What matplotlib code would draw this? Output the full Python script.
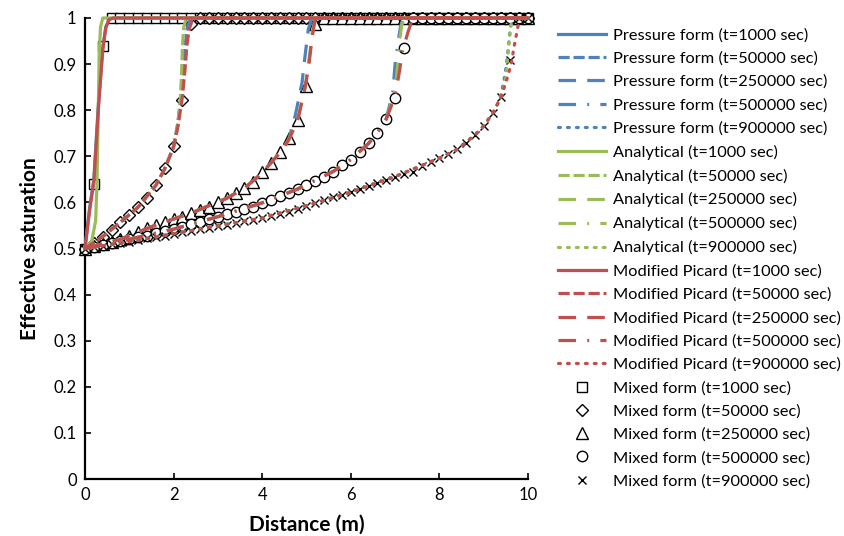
import numpy as np
import matplotlib

matplotlib.use("Agg")
import matplotlib.pyplot as plt

plt.rcParams["font.family"] = ["Lato", "DejaVu Sans"]

BLUE = "#4F81BD"
GREEN = "#9BBB59"
RED = "#C0504D"

TIMES = [1000, 50000, 250000, 500000, 900000]

# mixed form results, one value per node (0.2 m spacing, 0..10 m)
NODES = np.linspace(0, 10, 51)
MIX_1000 = [0.500, 0.640, 0.940] + [1.0] * 48
MIX_50000 = [0.500, 0.511, 0.526, 0.540, 0.558, 0.573, 0.591, 0.609, 0.638,
             0.674, 0.722, 0.822, 0.987] + [1.0] * 38
MIX_250000 = [0.500, 0.505, 0.510, 0.515, 0.520, 0.528, 0.536, 0.544, 0.551,
              0.557, 0.563, 0.569, 0.577, 0.584, 0.591, 0.600, 0.609, 0.620,
              0.631, 0.645, 0.665, 0.685, 0.710, 0.739, 0.779, 0.852,
              0.987] + [1.0] * 24
MIX_500000 = [0.500, 0.504, 0.508, 0.512, 0.516, 0.520, 0.524, 0.528, 0.533,
              0.537, 0.542, 0.547, 0.553, 0.558, 0.563, 0.569, 0.575, 0.580,
              0.585, 0.591, 0.599, 0.605, 0.613, 0.621, 0.629, 0.638, 0.646,
              0.656, 0.667, 0.681, 0.693, 0.709, 0.728, 0.751, 0.781, 0.826,
              0.936] + [1.0] * 14
MIX_900000 = [0.500, 0.503, 0.506, 0.509, 0.512, 0.515, 0.518, 0.522, 0.525,
              0.528, 0.532, 0.535, 0.538, 0.542, 0.545, 0.549, 0.552, 0.555,
              0.559, 0.562, 0.566, 0.570, 0.575, 0.580, 0.586, 0.593, 0.599,
              0.605, 0.611, 0.616, 0.622, 0.629, 0.635, 0.642, 0.649, 0.656,
              0.661, 0.667, 0.680, 0.688, 0.696, 0.705, 0.715, 0.728, 0.746,
              0.766, 0.793, 0.829, 0.909] + [1.0] * 2

# pressure form
PRES_X = [
    [0, 0.1, 0.2, 0.3, 0.4, 0.47, 0.55, 0.62, 10],
    [0, 0.4, 0.8, 1.2, 1.6, 1.8, 2.0, 2.09, 2.17, 2.22, 2.26, 2.31, 2.38, 2.45, 10],
    [0, 0.8, 1.6, 2.4, 3.2, 3.6, 4.0, 4.4, 4.6, 4.75, 4.9, 4.97, 5.04, 5.12, 10],
    [0, 1, 2, 3, 4, 4.8, 5.6, 6.0, 6.4, 6.6, 6.8, 6.95, 7.0, 7.07, 7.12, 7.18, 10],
    [0, 1, 2, 3, 4, 5, 6, 7, 7.6, 8.0, 8.4, 8.8, 9.0, 9.2, 9.35, 9.45, 9.5,
     9.55, 9.58, 9.61, 9.65, 10],
]
PRES_Y = [
    [0.5, 0.585, 0.65, 0.81, 0.935, 0.98, 0.997, 1.0, 1.0],
    [0.5, 0.526, 0.557, 0.59, 0.637, 0.673, 0.722, 0.77, 0.83, 0.89, 0.94, 0.98, 0.997, 1.0, 1.0],
    [0.5, 0.52, 0.551, 0.577, 0.609, 0.631, 0.664, 0.708, 0.737, 0.79, 0.86, 0.92, 0.975, 1.0, 1.0],
    [0.5, 0.52, 0.542, 0.569, 0.599, 0.629, 0.667, 0.693, 0.728, 0.751, 0.781, 0.84, 0.9, 0.95, 0.98, 1.0, 1.0],
    [0.5, 0.515, 0.532, 0.549, 0.566, 0.593, 0.622, 0.656, 0.68, 0.696, 0.715, 0.746, 0.766, 0.793,
     0.82, 0.86, 0.89, 0.93, 0.96, 0.985, 1.0, 1.0],
]

# analytical solution
ANAL_X = [
    [0, 0.15, 0.24, 0.27, 0.3, 0.32, 0.35, 0.4, 10],
    [0, 0.4, 0.8, 1.2, 1.6, 1.8, 2.0, 2.1, 2.15, 2.18, 2.2, 2.23, 2.28, 2.35, 10],
    [0, 0.8, 1.6, 2.4, 3.2, 3.6, 4.0, 4.4, 4.6, 4.8, 4.97, 5.07, 5.13, 5.2, 10],
    [0, 1, 2, 3, 4, 4.8, 5.6, 6.0, 6.4, 6.6, 6.8, 7.0, 7.06, 7.1, 7.15, 7.22, 10],
    [0, 1, 2, 3, 4, 5, 6, 7, 7.6, 8.0, 8.4, 8.8, 9.0, 9.2, 9.4, 9.48, 9.52,
     9.56, 9.59, 9.61, 9.65, 10],
]
ANAL_Y = [
    [0.5, 0.515, 0.56, 0.64, 0.8, 0.92, 0.98, 1.0, 1.0],
    [0.5, 0.526, 0.557, 0.59, 0.637, 0.673, 0.72, 0.77, 0.82, 0.88, 0.94, 0.98, 0.997, 1.0, 1.0],
    [0.5, 0.52, 0.551, 0.577, 0.609, 0.631, 0.664, 0.708, 0.736, 0.78, 0.85, 0.92, 0.97, 1.0, 1.0],
    [0.5, 0.52, 0.542, 0.569, 0.599, 0.629, 0.667, 0.693, 0.728, 0.751, 0.781, 0.84, 0.9, 0.95, 0.985, 1.0, 1.0],
    [0.5, 0.515, 0.532, 0.549, 0.566, 0.593, 0.622, 0.656, 0.68, 0.696, 0.715, 0.746, 0.766, 0.793,
     0.83, 0.86, 0.89, 0.93, 0.96, 0.98, 1.0, 1.0],
]

# modified Picard
PIC_X = [
    [0, 0.1, 0.2, 0.3, 0.4, 0.47, 0.55, 0.65, 10],
    [0, 0.4, 0.8, 1.2, 1.6, 1.8, 2.0, 2.1, 2.2, 2.26, 2.3, 2.35, 2.42, 2.5, 10],
    [0, 0.8, 1.6, 2.4, 3.2, 3.6, 4.0, 4.4, 4.6, 4.8, 4.95, 5.05, 5.13, 5.2, 10],
    [0, 1, 2, 3, 4, 4.8, 5.6, 6.0, 6.4, 6.6, 6.8, 7.0, 7.1, 7.17, 7.3, 7.4, 10],
    [0, 1, 2, 3, 4, 5, 6, 7, 7.6, 8.0, 8.4, 8.8, 9.0, 9.2, 9.4, 9.55, 9.63,
     9.68, 9.73, 9.78, 9.83, 10],
]
PIC_Y = [
    [0.5, 0.58, 0.645, 0.80, 0.93, 0.98, 0.997, 1.0, 1.0],
    [0.5, 0.526, 0.557, 0.59, 0.637, 0.673, 0.72, 0.765, 0.83, 0.89, 0.94, 0.975, 0.995, 1.0, 1.0],
    [0.5, 0.52, 0.551, 0.577, 0.609, 0.631, 0.664, 0.708, 0.736, 0.778, 0.84, 0.895, 0.96, 1.0, 1.0],
    [0.5, 0.52, 0.542, 0.569, 0.599, 0.629, 0.667, 0.693, 0.728, 0.751, 0.781, 0.83, 0.885, 0.93, 0.972, 1.0, 1.0],
    [0.5, 0.515, 0.532, 0.549, 0.566, 0.593, 0.622, 0.656, 0.68, 0.696, 0.715, 0.746, 0.766, 0.793,
     0.83, 0.875, 0.905, 0.935, 0.96, 0.985, 1.0, 1.0],
]

MIX_Y = [MIX_1000, MIX_50000, MIX_250000, MIX_500000, MIX_900000]

LW = 2.3
DASHES = [None, (3.5, 1.2), (5.5, 3.5), (5.5, 3.5, 0.6, 3.5), (0.6, 2.2)]
MARKERS = [("s", 7), ("D", 6.5), ("^", 8), ("o", 7.5), ("x", 6)]


def line_style(i):
    if DASHES[i] is None:
        return dict(linestyle="-")
    return dict(dashes=DASHES[i], dash_capstyle="round" if i == 4 else "butt")


fig = plt.figure(figsize=(8.45, 5.36), dpi=100)
ax = fig.add_axes([85 / 845, 1 - 479 / 536, 443 / 845, 461 / 536])

handles, labels = [], []
for i, t in enumerate(TIMES):
    h, = ax.plot(PRES_X[i], PRES_Y[i], color=BLUE, lw=LW, zorder=4, clip_on=False, **line_style(i))
    handles.append(h)
    labels.append(f"Pressure form (t={t} sec)")
for i, t in enumerate(TIMES):
    h, = ax.plot(ANAL_X[i], ANAL_Y[i], color=GREEN, lw=LW, zorder=5, clip_on=False, **line_style(i))
    handles.append(h)
    labels.append(f"Analytical (t={t} sec)")
for i, t in enumerate(TIMES):
    h, = ax.plot(PIC_X[i], PIC_Y[i], color=RED, lw=LW, zorder=6, clip_on=False, **line_style(i))
    handles.append(h)
    labels.append(f"Modified Picard (t={t} sec)")
for i, t in enumerate(TIMES):
    m, ms = MARKERS[i]
    h, = ax.plot(NODES, MIX_Y[i], ls="none", marker=m, ms=ms, mfc="white", mec="black",
                 mew=1.0, zorder=3, clip_on=False)
    handles.append(h)
    labels.append(f"Mixed form (t={t} sec)")

ax.set_xlim(0, 10)
ax.set_ylim(0, 1)
ax.set_xticks(range(0, 11, 2))
ax.set_yticks(np.arange(0, 1.01, 0.1))
ax.set_yticklabels(["0", "0.1", "0.2", "0.3", "0.4", "0.5", "0.6", "0.7", "0.8", "0.9", "1"])
ax.tick_params(direction="in", length=4, width=1.2, labelsize=12, pad=6)
for s in ("top", "right"):
    ax.spines[s].set_visible(False)
for s in ("left", "bottom"):
    ax.spines[s].set_linewidth(1.6)
ax.set_xlabel("Distance (m)", fontsize=15, fontweight="bold", labelpad=8)
ax.set_ylabel("Effective saturation", fontsize=15, fontweight="bold", labelpad=10)

fig.legend(handles, labels, loc="upper left", bbox_to_anchor=(558 / 845, 1 - 28 / 536),
           frameon=False, fontsize=11.8, handlelength=2.93, handletextpad=0.43,
           labelspacing=0.54, borderaxespad=0, borderpad=0)

fig.savefig("out.png", dpi=100, facecolor="white")
